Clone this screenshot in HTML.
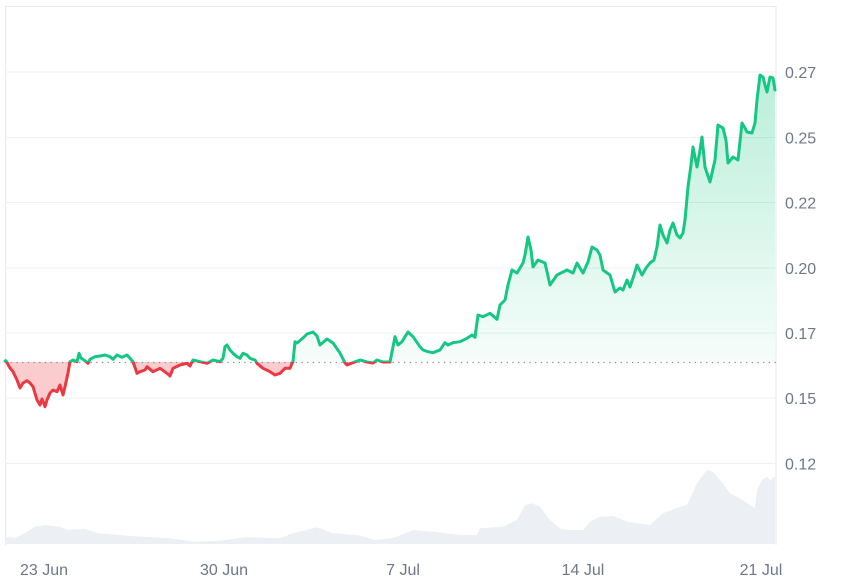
<!DOCTYPE html>
<html>
<head>
<meta charset="utf-8">
<style>
html,body{margin:0;padding:0;background:#fff;}
svg{display:block;}
text{font-family:"Liberation Sans",Arial,sans-serif;font-size:16px;fill:#6f7886;}
</style>
</head>
<body>
<svg width="849" height="579" viewBox="0 0 849 579" xmlns="http://www.w3.org/2000/svg">
<defs>
  <linearGradient id="gg" gradientUnits="userSpaceOnUse" x1="0" y1="70" x2="0" y2="362">
    <stop offset="0" stop-color="#16c784" stop-opacity="0.30"/>
    <stop offset="1" stop-color="#16c784" stop-opacity="0.04"/>
  </linearGradient>
  <clipPath id="above"><rect x="0" y="0" width="849" height="362"/></clipPath>
  <clipPath id="below"><rect x="0" y="362" width="849" height="300"/></clipPath>
</defs>

<!-- frame -->
<line x1="5" y1="6.5" x2="776" y2="6.5" stroke="#e6e8eb" stroke-width="1"/>
<line x1="5.5" y1="6" x2="5.5" y2="545" stroke="#e6e8eb" stroke-width="1"/>
<line x1="776" y1="6" x2="776" y2="545" stroke="#e6e8eb" stroke-width="1"/>

<!-- grid -->
<g stroke="#eef0f3" stroke-width="1">
  <line x1="5" y1="72" x2="776" y2="72"/>
  <line x1="5" y1="137.5" x2="776" y2="137.5"/>
  <line x1="5" y1="202.5" x2="776" y2="202.5"/>
  <line x1="5" y1="268" x2="776" y2="268"/>
  <line x1="5" y1="333" x2="776" y2="333"/>
  <line x1="5" y1="398" x2="776" y2="398"/>
  <line x1="5" y1="463.5" x2="776" y2="463.5"/>
</g>

<!-- volume -->
<polygon fill="#eceff3" points="5,544 5,536.7 15,538 25,533 35,526.7 45,525 60,526.7 67,530 85,529 97,533 130,536 170,538.3 195,541.7 220,540.7 245,537.3 280,538.3 293,533.3 307,530 317,527.3 333,533.3 357,535 375,540 393,538.3 413,530 433,531.7 460,535 477,535 480,528.3 503,526.7 517,520 525,505 532,503.3 540,506.7 550,520 560,528.3 567,530 583,530 590,521.7 600,516.7 613,516 627,521.7 650,525 663,513.3 680,506.7 687,505 697,483.3 707,470 713,471.7 720,480 730,493.3 740,498.3 750,505 755,508.3 757,490 762,480 767,476.7 770,480 775,476.7 775,544"/>

<!-- area fills -->
<g id="area">
<polygon clip-path="url(#above)" fill="url(#gg)" points="5,362 5,361 6,360.7 10,368 13,371.7 17,380 20,388 23,383 27,380.7 30,383 33,386.7 37,400 40,405 42,399 45,406.7 47,400 50,393 53,390 57,391.7 60,385 63,395 65,386.7 68,373 70,361.7 73,360 77,361.7 79,353.3 81,358 85,360.7 88,363.3 90,359.3 95,356.7 100,356 105,355 110,356.7 113,359.3 117,355 122,357.3 127,355 130,358.3 133,361.7 137,373.3 140,371.7 145,370 147,366.7 153,371.7 160,368.3 167,373.3 170,376 173,368.3 180,365 187,363.3 190,366 193,360 200,361.7 207,363.3 213,360 220,361.7 223,358.3 225,346.7 227,345 230,350 233,353.3 237,356.7 240,358.3 243,353.3 247,355 250,358.3 255,360 257,363.3 263,368.3 270,371.7 275,375 280,373.3 285,368.3 290,368.3 292,363.3 293,361.7 295,341.7 297,343 303,338 307,334 313,332 317,336 320,345 327,339 333,343 340,353 345,363 347,365 352,363 360,360 367,362 373,363 377,360 383,362 390,362 395,336.7 398,345 402,341.7 405,336.7 408,332 413,336.7 420,346.7 423,350 428,351.7 433,352.7 440,350 445,342.7 448,345 453,342.7 460,341.7 467,338.3 472,335 475,337.3 478,315 483,316.7 490,313.3 497,319.3 500,305 505,300 508,285 512,270 517,273 523,263 525,255 528,237 531,250 533,267 538,260 545,263 550,285 557,275 567,270 573,273 577,263 583,273 588,262 592,247 597,250 600,255 603,270 610,275 615,292 620,288 623,290 627,280 630,287 634,275 637,265 642,275 646,268 650,263 654,260 657,247 660,225 663,235 667,243 670,230 673,223 677,235 680,238 683,233 685,220 688,187 691,165 693,147 697,167 700,150 702,137 705,167 710,182 715,160 718,125 723,128 726,140 728,163 733,157 738,160 742,123 745,128 747,132 752,133 755,123 757,100 760,75 763,77 765,85 767,92 770,77 773,78 775,90 775,362"/>
<polygon clip-path="url(#below)" fill="#ea3943" fill-opacity="0.26" points="5,362 5,361 6,360.7 10,368 13,371.7 17,380 20,388 23,383 27,380.7 30,383 33,386.7 37,400 40,405 42,399 45,406.7 47,400 50,393 53,390 57,391.7 60,385 63,395 65,386.7 68,373 70,361.7 73,360 77,361.7 79,353.3 81,358 85,360.7 88,363.3 90,359.3 95,356.7 100,356 105,355 110,356.7 113,359.3 117,355 122,357.3 127,355 130,358.3 133,361.7 137,373.3 140,371.7 145,370 147,366.7 153,371.7 160,368.3 167,373.3 170,376 173,368.3 180,365 187,363.3 190,366 193,360 200,361.7 207,363.3 213,360 220,361.7 223,358.3 225,346.7 227,345 230,350 233,353.3 237,356.7 240,358.3 243,353.3 247,355 250,358.3 255,360 257,363.3 263,368.3 270,371.7 275,375 280,373.3 285,368.3 290,368.3 292,363.3 293,361.7 295,341.7 297,343 303,338 307,334 313,332 317,336 320,345 327,339 333,343 340,353 345,363 347,365 352,363 360,360 367,362 373,363 377,360 383,362 390,362 395,336.7 775,362"/>
</g>

<!-- baseline dotted -->
<line x1="5" y1="362.5" x2="776" y2="362.5" stroke="#8a8f99" stroke-width="1.2" stroke-dasharray="1.3,4.4"/>

<!-- price line -->
<g fill="none" stroke-width="3" stroke-linejoin="round" stroke-linecap="round">
<polyline clip-path="url(#above)" stroke="#16c784" points="5,361 6,360.7 10,368 13,371.7 17,380 20,388 23,383 27,380.7 30,383 33,386.7 37,400 40,405 42,399 45,406.7 47,400 50,393 53,390 57,391.7 60,385 63,395 65,386.7 68,373 70,361.7 73,360 77,361.7 79,353.3 81,358 85,360.7 88,363.3 90,359.3 95,356.7 100,356 105,355 110,356.7 113,359.3 117,355 122,357.3 127,355 130,358.3 133,361.7 137,373.3 140,371.7 145,370 147,366.7 153,371.7 160,368.3 167,373.3 170,376 173,368.3 180,365 187,363.3 190,366 193,360 200,361.7 207,363.3 213,360 220,361.7 223,358.3 225,346.7 227,345 230,350 233,353.3 237,356.7 240,358.3 243,353.3 247,355 250,358.3 255,360 257,363.3 263,368.3 270,371.7 275,375 280,373.3 285,368.3 290,368.3 292,363.3 293,361.7 295,341.7 297,343 303,338 307,334 313,332 317,336 320,345 327,339 333,343 340,353 345,363 347,365 352,363 360,360 367,362 373,363 377,360 383,362 390,362 395,336.7 398,345 402,341.7 405,336.7 408,332 413,336.7 420,346.7 423,350 428,351.7 433,352.7 440,350 445,342.7 448,345 453,342.7 460,341.7 467,338.3 472,335 475,337.3 478,315 483,316.7 490,313.3 497,319.3 500,305 505,300 508,285 512,270 517,273 523,263 525,255 528,237 531,250 533,267 538,260 545,263 550,285 557,275 567,270 573,273 577,263 583,273 588,262 592,247 597,250 600,255 603,270 610,275 615,292 620,288 623,290 627,280 630,287 634,275 637,265 642,275 646,268 650,263 654,260 657,247 660,225 663,235 667,243 670,230 673,223 677,235 680,238 683,233 685,220 688,187 691,165 693,147 697,167 700,150 702,137 705,167 710,182 715,160 718,125 723,128 726,140 728,163 733,157 738,160 742,123 745,128 747,132 752,133 755,123 757,100 760,75 763,77 765,85 767,92 770,77 773,78 775,90"/>
<polyline clip-path="url(#below)" stroke="#ea3943" points="5,361 6,360.7 10,368 13,371.7 17,380 20,388 23,383 27,380.7 30,383 33,386.7 37,400 40,405 42,399 45,406.7 47,400 50,393 53,390 57,391.7 60,385 63,395 65,386.7 68,373 70,361.7 73,360 77,361.7 79,353.3 81,358 85,360.7 88,363.3 90,359.3 95,356.7 100,356 105,355 110,356.7 113,359.3 117,355 122,357.3 127,355 130,358.3 133,361.7 137,373.3 140,371.7 145,370 147,366.7 153,371.7 160,368.3 167,373.3 170,376 173,368.3 180,365 187,363.3 190,366 193,360 200,361.7 207,363.3 213,360 220,361.7 223,358.3 225,346.7 227,345 230,350 233,353.3 237,356.7 240,358.3 243,353.3 247,355 250,358.3 255,360 257,363.3 263,368.3 270,371.7 275,375 280,373.3 285,368.3 290,368.3 292,363.3 293,361.7 295,341.7 297,343 303,338 307,334 313,332 317,336 320,345 327,339 333,343 340,353 345,363 347,365 352,363 360,360 367,362 373,363 377,360 383,362 390,362 395,336.7 398,345"/>
</g>

<!-- y labels -->
<g>
  <text x="785" y="78">0.27</text>
  <text x="785" y="143.5">0.25</text>
  <text x="785" y="208.5">0.22</text>
  <text x="785" y="274">0.20</text>
  <text x="785" y="339">0.17</text>
  <text x="785" y="404">0.15</text>
  <text x="785" y="469.5">0.12</text>
</g>

<!-- x labels -->
<g text-anchor="middle">
  <text x="44" y="575">23 Jun</text>
  <text x="224" y="575">30 Jun</text>
  <text x="403" y="575">7 Jul</text>
  <text x="583" y="575">14 Jul</text>
  <text x="761" y="575">21 Jul</text>
</g>
</svg>
</body>
</html>
